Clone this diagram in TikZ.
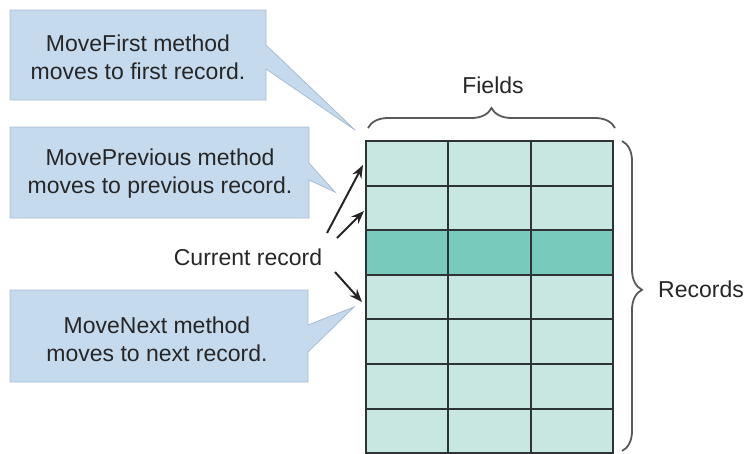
\documentclass[tikz,border=0pt]{standalone}
\usepackage{fontspec}
\setmainfont{Liberation Sans}
\usetikzlibrary{decorations.pathreplacing,arrows.meta}
\definecolor{callfill}{HTML}{C6DAEE}
\definecolor{callline}{HTML}{A8BCD2}
\definecolor{celllight}{HTML}{C8E7E0}
\definecolor{celldark}{HTML}{78CBBC}
\definecolor{gridline}{HTML}{2E3436}
\begin{document}
\begin{tikzpicture}[x=1pt,y=-1pt,
  font=\fontsize{23}{28}\selectfont,
  callout/.style={fill=callfill,draw=callline,line width=0.8pt,line join=miter},
  txt/.style={align=center,inner sep=0pt,text=black!85},
  cell/.style={draw=gridline,line width=2pt,minimum width=82.33pt,minimum height=44.6pt,inner sep=0pt,outer sep=0pt,anchor=north west},
  ptr/.style={-{Stealth[length=13pt,width=10pt]},line width=2pt,draw=black!85},
  brc/.style={decorate,decoration={brace,amplitude=20pt},line width=1.8pt,draw=black!65}]
\useasboundingbox (0,0) rectangle (750,453);

% table
\foreach \r/\col in {0/celllight,1/celllight,2/celldark,3/celllight,4/celllight,5/celllight,6/celllight}{
  \foreach \c in {0,1,2}{
    \node[cell,fill=\col] (c\r\c) at ({366+82.33*\c},{141+44.6*\r}) {};
  }
}

% callouts
\path[callout] (10,10) -- (266,10) -- (266,45) -- (355,130) -- (266,69) -- (266,100) -- (10,100) -- cycle;
\node[txt] (t1) at (138,57) {MoveFirst method\\moves to first record.};

\path[callout] (10,127) -- (309,127) -- (309,163) -- (335,192) -- (309,180) -- (309,218) -- (10,218) -- cycle;
\node[txt] (t2) at (160,174) {MovePrevious method\\moves to previous record.};

\path[callout] (10,290) -- (308,290) -- (308,325) -- (354,307) -- (308,352) -- (308,382) -- (10,382) -- cycle;
\node[txt] (t3) at (157,339) {MoveNext method\\moves to next record.};

% current record and arrows
\node[txt] (cur) at (248,257) {Current record};
\coordinate (a1s) at (327,233);
\coordinate (a1e) at (363,165);
\coordinate (a2s) at (337,238);
\coordinate (a2e) at (364,211);
\coordinate (a3s) at (335,272);
\coordinate (a3e) at (362,302);
\draw[ptr] (a1s) -- (a1e);
\draw[ptr] (a2s) -- (a2e);
\draw[ptr] (a3s) -- (a3e);

% braces
\coordinate (fb1) at (368,128);
\coordinate (fb2) at (615,128);
\draw[brc] (fb1) -- (fb2);
\node[txt] (fields) at (493,85) {Fields};

\coordinate (rb1) at (622,141);
\coordinate (rb2) at (622,451);
\draw[brc,decoration={aspect=0.48}] (rb1) -- (rb2);
\node[txt,anchor=west] (rec) at (658,289) {Records};
\end{tikzpicture}
\end{document}
